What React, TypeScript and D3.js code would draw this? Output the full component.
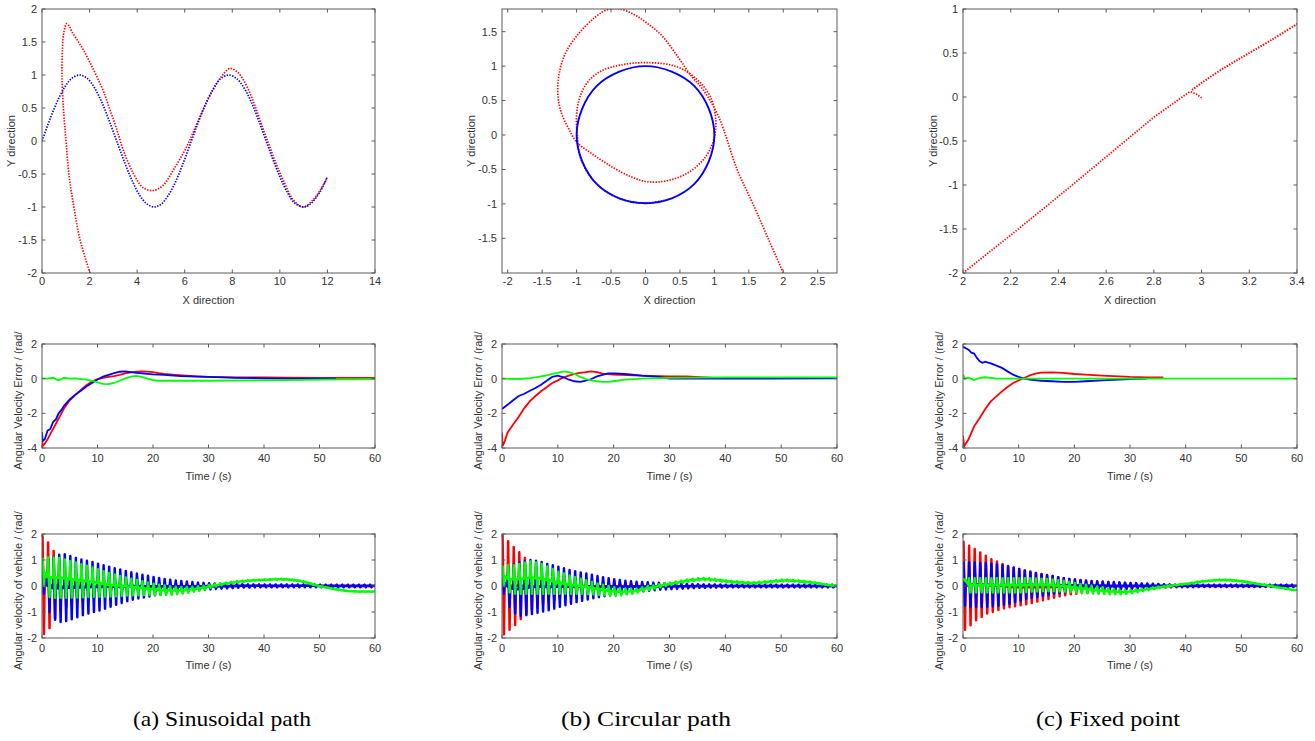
import React from 'react';
import * as d3 from 'd3';

type Pt = [number, number];

// ---------- Top row: trajectories ----------
const sinRefA: Pt[] = [[0,0],[0.25,0.25],[0.5,0.48],[0.75,0.68],[1,0.84],[1.25,0.95],[1.57,1.0],[1.9,0.95],[2.2,0.81],[2.5,0.6],[2.8,0.33],[3.14,0.0],[3.5,-0.35],[3.8,-0.61],[4.1,-0.82],[4.4,-0.95],[4.71,-1.0],[5.0,-0.96],[5.3,-0.83],[5.6,-0.63],[5.9,-0.37],[6.28,0.0],[6.6,0.31],[6.9,0.58],[7.2,0.79],[7.5,0.94],[7.85,1.0],[8.2,0.94],[8.5,0.8],[8.8,0.59],[9.1,0.32],[9.42,0.0],[9.7,-0.27],[10.0,-0.54],[10.3,-0.77],[10.6,-0.93],[11.0,-1.0],[11.3,-0.95],[11.6,-0.82],[11.8,-0.7],[12.0,-0.54]];
const sinRobotA: Pt[] = [[2.02,-2.0],[1.6,-1.5],[1.34,-1.0],[1.13,-0.5],[1.01,0.0],[0.9,0.5],[0.84,1.0],[0.86,1.4],[0.92,1.65],[1.04,1.78],[1.15,1.74],[1.25,1.66],[1.5,1.52],[1.74,1.38],[2.0,1.2],[2.3,0.98],[2.6,0.74],[2.86,0.47],[3.15,0.17],[3.42,-0.14],[3.84,-0.49],[4.26,-0.71],[4.68,-0.75],[5.1,-0.67],[5.52,-0.44],[6.08,-0.09],[6.64,0.37],[7.2,0.78],[7.55,0.98],[7.9,1.1],[8.2,1.05],[8.46,0.93],[8.75,0.72],[9.02,0.47],[9.3,0.18],[9.58,-0.09],[9.86,-0.36],[10.14,-0.59],[10.56,-0.89],[10.98,-1.0],[11.4,-0.89],[11.7,-0.74],[12.0,-0.55]];

const circleRefB: Pt[] = [[1,0],[0.92,0.38],[0.71,0.71],[0.38,0.92],[0,1],[-0.38,0.92],[-0.71,0.71],[-0.92,0.38],[-1,0],[-0.92,-0.38],[-0.71,-0.71],[-0.38,-0.92],[0,-0.99],[0.38,-0.92],[0.71,-0.71],[0.92,-0.38]];
const circleRobotB: Pt[] = [[2.0,-2.0],[1.78,-1.5],[1.56,-1.0],[1.33,-0.5],[1.06,0.27],[0.82,0.68],[0.67,0.85],[0.48,1.12],[0.24,1.44],[0.04,1.61],[-0.15,1.74],[-0.37,1.83],[-0.55,1.82],[-0.73,1.71],[-0.98,1.46],[-1.17,1.17],[-1.26,0.85],[-1.27,0.56],[-1.22,0.32],[-1.12,0.1],[-1.0,-0.1],[-0.78,-0.27],[-0.49,-0.46],[-0.2,-0.61],[0.04,-0.68],[0.33,-0.66],[0.63,-0.54],[0.87,-0.32],[0.99,-0.07],[1.02,0.22],[0.94,0.56],[0.72,0.83],[0.43,1.0],[0.04,1.05],[-0.34,1.02],[-0.64,0.93],[-0.83,0.78],[-0.95,0.56],[-1.0,0.3],[-0.99,0.0],[-0.93,-0.37],[-0.71,-0.71],[-0.38,-0.92],[0.0,-0.99],[0.38,-0.92]];

const fixedLowerC: Pt[] = [[2.0,-2.0],[2.2,-1.57],[2.4,-1.13],[2.6,-0.68],[2.8,-0.23],[2.95,0.06]];
const fixedSpurC: Pt[] = [[2.955,0.06],[2.98,0.03],[3.0,-0.01]];
const fixedUpperC: Pt[] = [[2.96,0.08],[3.0,0.16],[3.1,0.34],[3.2,0.5],[3.3,0.66],[3.4,0.83]];

// ---------- Middle row: angular velocity error ----------
const errRedA: Pt[] = [[0,-3.1],[0.1,-3.9],[0.5,-3.75],[1,-3.5],[1.5,-3.2],[2,-2.9],[2.5,-2.6],[3,-2.3],[3.5,-2.0],[4,-1.7],[5,-1.25],[6,-0.95],[7,-0.65],[8,-0.38],[9,-0.17],[10,-0.03],[11,0.05],[12,0.1],[13,0.15],[14,0.22],[15,0.3],[16,0.36],[17,0.4],[18,0.42],[19,0.41],[20,0.38],[21,0.32],[22,0.28],[24,0.22],[26,0.17],[28,0.13],[30,0.1],[35,0.08],[40,0.07],[44,0.06],[50,0.05],[60,0.05]];
const errBlueA: Pt[] = [[0,-3.1],[0.1,-3.6],[0.5,-3.5],[1,-3.0],[1.5,-2.9],[2,-2.5],[2.5,-2.35],[3,-2.0],[3.5,-1.8],[4,-1.55],[5,-1.2],[6,-0.92],[7,-0.7],[8,-0.45],[9,-0.25],[10,-0.05],[11,0.12],[12,0.22],[13,0.32],[14,0.4],[15,0.42],[16,0.38],[17,0.33],[18,0.3],[20,0.25],[22,0.22],[25,0.15],[28,0.12],[30,0.1],[35,0.05],[40,0.02],[45,0.0],[53,0.0]];
const errGreenA: Pt[] = [[0,0.02],[1,0.0],[2,0.05],[3,-0.1],[4,0.05],[5,0.0],[6,0.02],[7,-0.02],[8,-0.05],[9,-0.12],[10,-0.22],[11,-0.3],[12,-0.32],[13,-0.25],[14,-0.12],[15,0.02],[16,0.12],[17,0.16],[18,0.1],[19,0.0],[20,-0.08],[21,-0.12],[25,-0.12],[30,-0.12],[40,-0.1],[50,-0.06],[60,-0.03]];

const errRedB: Pt[] = [[0,-3.1],[0.1,-3.9],[0.5,-3.6],[1,-3.1],[2,-2.65],[3,-2.2],[4,-1.7],[5,-1.3],[6,-1.0],[7,-0.73],[8,-0.5],[9,-0.25],[10,-0.1],[11,0.08],[12,0.17],[13,0.27],[14,0.33],[16,0.42],[17,0.38],[18,0.29],[20,0.23],[25,0.17],[30,0.13],[33,0.13],[38,0.05],[44,0.03]];
const errBlueB: Pt[] = [[0,-1.75],[1,-1.5],[2,-1.25],[3,-1.0],[4,-0.87],[5,-0.7],[6,-0.54],[7,-0.35],[8,-0.12],[9,0.1],[10,0.17],[11,0.08],[12,-0.06],[13,-0.15],[14,-0.19],[15,-0.12],[16,-0.02],[17,0.13],[19,0.3],[20,0.3],[22,0.27],[25,0.17],[28,0.1],[30,0.0],[35,0.0],[44,0.0],[60,0.02]];
const errGreenB: Pt[] = [[0,0.0],[3,-0.02],[5,0.03],[6,0.08],[7,0.13],[8,0.19],[9,0.27],[10,0.33],[11,0.42],[12,0.38],[13,0.27],[14,0.1],[15,-0.02],[16,-0.1],[17,-0.15],[18,-0.19],[19,-0.19],[20,-0.15],[22,-0.06],[25,0.0],[30,0.04],[40,0.08],[50,0.08],[60,0.08]];

const errRedC: Pt[] = [[0,-3.3],[0.2,-3.9],[1,-3.5],[2,-2.75],[3,-2.27],[4,-1.75],[5,-1.31],[6,-1.02],[7,-0.73],[8,-0.48],[9,-0.25],[10,-0.1],[11,0.04],[12,0.19],[13,0.29],[14,0.35],[16,0.36],[18,0.33],[20,0.27],[22,0.23],[25,0.17],[28,0.13],[30,0.1],[33,0.08],[36,0.08]];
const errBlueC: Pt[] = [[0,1.85],[0.5,1.75],[1,1.67],[1.5,1.5],[2,1.45],[2.5,1.2],[3,1.0],[3.5,0.92],[4,0.98],[4.5,0.93],[5,0.88],[6,0.75],[7,0.62],[8,0.42],[9,0.23],[10,0.1],[11,0.0],[12,-0.06],[14,-0.12],[16,-0.15],[18,-0.19],[20,-0.19],[22,-0.15],[25,-0.1],[28,-0.06],[30,-0.02],[33,0.0]];
const errGreenC: Pt[] = [[0,0.25],[0.3,0.0],[1,0.05],[2,-0.08],[3,0.05],[4,0.08],[5,0.04],[6,0.0],[20,0.0],[40,0.0],[60,0.0]];

// ---------- Bottom row: angular velocity of vehicle (one peak pair per cycle) ----------
const cycleTimes = [0,1,2,3,4,5,6,7,8,9,10,11,12,13,14,15,16,17,18,19,20,21,22,23,24,25,26,27,28,29,30,31,32,33,34,35,36,37,38,39,40,41,42,43,44,45,46,47,48,49,50,51,52,53,54,55,56,57,58,59];

const velRedHiA = [1.92,1.67,1.35,0.95,0.78,0.66,0.58,0.52,0.47,0.43,0.39,0.35,0.32,0.29,0.26,0.24,0.21,0.19,0.17,0.15,0.13,0.12,0.1,0.09,0.08,0.07,0.06,0.06,0.05,0.05,0.05,0.05,0.05,0.05,0.05,0.05,0.05,0.05,0.05,0.05,0.04,0.04,0.04,0.04,0.04,0.04,0.04,0.04,0.04,0.04,0.04,0.04,0.04,0.04,0.04,0.04,0.04,0.04,0.04,0.04];
const velRedLoA = [-1.85,-1.62,-1.25,-0.98,-0.82,-0.72,-0.64,-0.57,-0.51,-0.47,-0.43,-0.39,-0.35,-0.32,-0.29,-0.26,-0.23,-0.21,-0.19,-0.17,-0.15,-0.13,-0.12,-0.1,-0.09,-0.08,-0.07,-0.06,-0.06,-0.05,-0.05,-0.05,-0.05,-0.05,-0.05,-0.04,-0.04,-0.04,-0.04,-0.04,-0.04,-0.04,-0.04,-0.04,-0.04,-0.03,-0.03,-0.03,-0.03,-0.03,-0.03,-0.03,-0.03,-0.03,-0.03,-0.03,-0.03,-0.03,-0.03,-0.03];
const velBlueHiA = [0.88,1.02,1.12,1.2,1.22,1.15,1.08,1.02,0.97,0.92,0.86,0.8,0.74,0.68,0.63,0.58,0.53,0.48,0.43,0.39,0.35,0.31,0.27,0.24,0.21,0.19,0.17,0.15,0.13,0.12,0.11,0.1,0.09,0.08,0.08,0.07,0.07,0.06,0.06,0.06,0.06,0.06,0.06,0.06,0.06,0.06,0.06,0.06,0.06,0.06,0.05,0.05,0.05,0.05,0.05,0.05,0.05,0.05,0.05,0.05];
const velBlueLoA = [-0.3,-1.0,-1.3,-1.38,-1.35,-1.28,-1.2,-1.12,-1.06,-1.0,-0.94,-0.87,-0.8,-0.72,-0.65,-0.58,-0.53,-0.48,-0.44,-0.4,-0.36,-0.32,-0.29,-0.26,-0.24,-0.22,-0.2,-0.18,-0.16,-0.14,-0.13,-0.11,-0.1,-0.09,-0.08,-0.07,-0.06,-0.06,-0.05,-0.05,-0.05,-0.05,-0.05,-0.05,-0.05,-0.05,-0.05,-0.05,-0.05,-0.05,-0.05,-0.05,-0.05,-0.05,-0.05,-0.05,-0.05,-0.05,-0.05,-0.05];
const velGreenHiA = [1.05,1.1,1.1,1.08,1.02,0.96,0.9,0.84,0.78,0.71,0.64,0.57,0.5,0.44,0.38,0.33,0.28,0.23,0.18,0.13,0.09,0.05,0.02,-0.01,-0.03,-0.04,-0.04,-0.03,-0.01,0.01,0.04,0.07,0.1,0.13,0.16,0.19,0.21,0.23,0.24,0.25,0.26,0.27,0.28,0.28,0.27,0.25,0.22,0.18,0.12,0.05,0.0,-0.04,-0.08,-0.12,-0.16,-0.19,-0.2,-0.21,-0.21,-0.21];
const velGreenLoA = [0.0,-0.42,-0.45,-0.45,-0.45,-0.44,-0.44,-0.43,-0.42,-0.41,-0.41,-0.4,-0.4,-0.39,-0.38,-0.37,-0.36,-0.36,-0.35,-0.35,-0.35,-0.35,-0.35,-0.34,-0.32,-0.29,-0.26,-0.22,-0.18,-0.13,-0.07,-0.02,0.03,0.07,0.1,0.13,0.16,0.18,0.2,0.21,0.22,0.23,0.24,0.24,0.23,0.21,0.18,0.14,0.08,0.02,-0.03,-0.07,-0.11,-0.15,-0.18,-0.2,-0.21,-0.22,-0.22,-0.22];

const velRedHiB = [1.95,1.72,1.5,1.3,1.08,0.9,0.77,0.66,0.57,0.5,0.44,0.39,0.35,0.31,0.28,0.25,0.22,0.2,0.18,0.16,0.15,0.13,0.12,0.11,0.1,0.09,0.08,0.07,0.06,0.06,0.05,0.05,0.05,0.05,0.05,0.05,0.05,0.05,0.05,0.05,0.04,0.04,0.04,0.04,0.04,0.04,0.04,0.04,0.04,0.04,0.04,0.04,0.04,0.04,0.04,0.04,0.04,0.04,0.04,0.04];
const velRedLoB = [-1.86,-1.68,-1.5,-1.27,-1.08,-0.92,-0.8,-0.7,-0.62,-0.55,-0.49,-0.44,-0.4,-0.36,-0.32,-0.29,-0.26,-0.23,-0.2,-0.18,-0.16,-0.14,-0.13,-0.12,-0.11,-0.1,-0.09,-0.08,-0.07,-0.07,-0.06,-0.06,-0.06,-0.05,-0.05,-0.05,-0.05,-0.05,-0.05,-0.05,-0.04,-0.04,-0.04,-0.04,-0.04,-0.04,-0.04,-0.04,-0.04,-0.04,-0.04,-0.04,-0.04,-0.04,-0.04,-0.04,-0.04,-0.04,-0.04,-0.04];
const velBlueHiB = [0.58,0.75,0.82,0.9,0.95,1.0,0.97,0.92,0.85,0.8,0.74,0.68,0.62,0.57,0.52,0.48,0.43,0.38,0.34,0.3,0.26,0.23,0.2,0.18,0.16,0.15,0.14,0.13,0.12,0.11,0.1,0.09,0.08,0.08,0.07,0.07,0.06,0.06,0.06,0.05,0.05,0.05,0.05,0.05,0.05,0.05,0.05,0.05,0.05,0.05,0.05,0.05,0.05,0.05,0.05,0.05,0.05,0.05,0.05,0.05];
const velBlueLoB = [-0.3,-0.8,-1.05,-1.15,-1.12,-1.08,-1.03,-0.98,-0.93,-0.87,-0.8,-0.74,-0.68,-0.62,-0.57,-0.52,-0.47,-0.43,-0.39,-0.36,-0.33,-0.3,-0.27,-0.24,-0.22,-0.2,-0.18,-0.16,-0.14,-0.13,-0.12,-0.11,-0.1,-0.09,-0.08,-0.07,-0.07,-0.06,-0.06,-0.05,-0.05,-0.05,-0.05,-0.05,-0.05,-0.05,-0.05,-0.05,-0.05,-0.05,-0.05,-0.05,-0.05,-0.05,-0.05,-0.05,-0.05,-0.05,-0.05,-0.05];
const velGreenHiB = [0.75,0.8,0.8,0.85,0.9,0.95,0.9,0.85,0.75,0.65,0.55,0.48,0.4,0.34,0.28,0.22,0.15,0.1,0.05,0.0,-0.05,-0.08,-0.1,-0.1,-0.1,-0.05,0.0,0.02,0.06,0.1,0.13,0.17,0.21,0.25,0.28,0.3,0.31,0.3,0.28,0.25,0.22,0.2,0.18,0.16,0.15,0.15,0.16,0.18,0.2,0.23,0.25,0.25,0.24,0.22,0.2,0.17,0.14,0.1,0.06,0.03];
const velGreenLoB = [0.0,-0.25,-0.3,-0.3,-0.3,-0.3,-0.3,-0.3,-0.3,-0.3,-0.3,-0.3,-0.3,-0.3,-0.3,-0.31,-0.32,-0.34,-0.36,-0.38,-0.38,-0.36,-0.33,-0.3,-0.25,-0.2,-0.15,-0.1,-0.05,0.0,0.04,0.08,0.12,0.16,0.19,0.21,0.22,0.21,0.19,0.17,0.15,0.13,0.11,0.1,0.09,0.09,0.1,0.12,0.14,0.16,0.18,0.18,0.17,0.15,0.13,0.11,0.09,0.06,0.03,0.0];

const velRedHiC = [1.7,1.55,1.42,1.29,1.16,1.03,0.94,0.85,0.77,0.71,0.65,0.6,0.55,0.5,0.46,0.42,0.38,0.34,0.3,0.27,0.25,0.23,0.21,0.19,0.18,0.17,0.15,0.13,0.12,0.11,0.1,0.09,0.08,0.07,0.06,0.06,0.05,0.05,0.05,0.05,0.05,0.05,0.04,0.04,0.04,0.04,0.04,0.04,0.04,0.04,0.04,0.04,0.04,0.04,0.04,0.04,0.04,0.04,0.04,0.04];
const velRedLoC = [-1.68,-1.51,-1.32,-1.19,-1.06,-1.0,-0.92,-0.86,-0.82,-0.78,-0.74,-0.7,-0.65,-0.6,-0.55,-0.5,-0.45,-0.4,-0.36,-0.32,-0.3,-0.27,-0.25,-0.23,-0.22,-0.2,-0.18,-0.16,-0.14,-0.13,-0.12,-0.1,-0.09,-0.08,-0.07,-0.06,-0.06,-0.05,-0.05,-0.05,-0.05,-0.05,-0.04,-0.04,-0.04,-0.04,-0.04,-0.04,-0.04,-0.04,-0.04,-0.04,-0.04,-0.04,-0.04,-0.04,-0.04,-0.04,-0.04,-0.04];
const velBlueHiC = [0.9,0.9,0.9,0.88,0.88,0.86,0.84,0.8,0.75,0.7,0.65,0.6,0.55,0.5,0.45,0.41,0.38,0.34,0.3,0.27,0.25,0.22,0.2,0.18,0.17,0.16,0.15,0.15,0.14,0.13,0.12,0.11,0.1,0.1,0.09,0.08,0.07,0.06,0.05,0.05,0.05,0.05,0.05,0.05,0.05,0.05,0.05,0.05,0.05,0.05,0.05,0.05,0.05,0.05,0.05,0.05,0.05,0.05,0.05,0.05];
const velBlueLoC = [-0.75,-0.8,-0.8,-0.8,-0.8,-0.78,-0.76,-0.72,-0.68,-0.62,-0.56,-0.5,-0.46,-0.42,-0.38,-0.34,-0.3,-0.27,-0.25,-0.22,-0.2,-0.18,-0.16,-0.15,-0.14,-0.13,-0.13,-0.13,-0.12,-0.11,-0.1,-0.09,-0.09,-0.08,-0.07,-0.06,-0.05,-0.04,-0.03,-0.03,-0.03,-0.03,-0.03,-0.03,-0.03,-0.03,-0.03,-0.03,-0.03,-0.03,-0.03,-0.03,-0.03,-0.03,-0.03,-0.03,-0.03,-0.03,-0.03,-0.03];
const velGreenHiC = [0.27,0.3,0.3,0.3,0.3,0.3,0.3,0.3,0.3,0.3,0.3,0.3,0.3,0.29,0.28,0.27,0.25,0.22,0.2,0.16,0.12,0.08,0.05,0.01,-0.02,-0.05,-0.08,-0.11,-0.14,-0.15,-0.15,-0.13,-0.1,-0.08,-0.05,-0.02,0.0,0.03,0.05,0.08,0.1,0.13,0.17,0.2,0.22,0.24,0.25,0.25,0.24,0.22,0.2,0.16,0.12,0.08,0.05,0.01,-0.03,-0.07,-0.1,-0.14];
const velGreenLoC = [0.2,-0.25,-0.25,-0.25,-0.25,-0.25,-0.25,-0.25,-0.25,-0.25,-0.25,-0.24,-0.22,-0.21,-0.2,-0.2,-0.2,-0.21,-0.22,-0.23,-0.25,-0.27,-0.28,-0.29,-0.3,-0.31,-0.32,-0.32,-0.32,-0.3,-0.28,-0.24,-0.2,-0.16,-0.12,-0.08,-0.05,-0.02,0.02,0.05,0.07,0.1,0.14,0.17,0.19,0.21,0.22,0.21,0.2,0.18,0.16,0.13,0.1,0.06,0.03,-0.01,-0.05,-0.09,-0.12,-0.16];

// ---------- Ticks / labels ----------
const ticksSinX = [0,2,4,6,8,10,12,14];
const ticksSinY = [-2,-1.5,-1,-0.5,0,0.5,1,1.5,2];
const ticksCircX = [-2,-1.5,-1,-0.5,0,0.5,1,1.5,2,2.5];
const ticksCircY = [-1.5,-1,-0.5,0,0.5,1,1.5];
const ticksFixX = [2,2.2,2.4,2.6,2.8,3,3.2,3.4];
const ticksFixY = [-2,-1.5,-1,-0.5,0,0.5,1];
const ticksTime = [0,10,20,30,40,50,60];
const ticksErrY = [-4,-2,0,2];
const ticksVelY = [-2,-1,0,1,2];
const captions = ['(a) Sinusoidal path', '(b) Circular path', '(c) Fixed point'];

const RED = '#ff0000', BLUE = '#0000ff', GREEN = '#00ff00';
const FONT = "'Liberation Sans', Arial, sans-serif";

function spikes(times: number[], hi: number[], lo: number[], tEnd: number): Pt[] {
  const pts: Pt[] = [];
  times.forEach((t, i) => {
    const m = (hi[i] + lo[i]) / 2;
    pts.push([t, m], [t + 0.1, hi[i]], [t + 0.36, lo[i]], [t + 0.46, m]);
  });
  const last = times.length - 1;
  pts.push([tEnd, (hi[last] + lo[last]) / 2]);
  return pts;
}

type Scales = { x: d3.ScaleLinear<number, number>; y: d3.ScaleLinear<number, number> };

type PanelProps = {
  id: string;
  left: number; top: number; right: number; bottom: number;
  xDomain: [number, number]; yDomain: [number, number];
  xTicks: number[]; yTicks: number[];
  xLabel: string; yLabel: string;
  yLabelX: number; xLabelDy: number; xTickDy: number;
  labelClipTop: number;
  render: (s: Scales) => React.ReactNode;
};

function Panel(p: PanelProps) {
  const x = d3.scaleLinear().domain(p.xDomain).range([p.left, p.right]);
  const y = d3.scaleLinear().domain(p.yDomain).range([p.bottom, p.top]);
  const tl = 3.5;
  const cy = (p.top + p.bottom) / 2;
  return (
    <g>
      <defs>
        <clipPath id={`clip-${p.id}`}>
          <rect x={p.left} y={p.top} width={p.right - p.left} height={p.bottom - p.top} />
        </clipPath>
        <clipPath id={`lclip-${p.id}`}>
          <rect x={p.yLabelX - 20} y={p.labelClipTop} width={30} height={400} />
        </clipPath>
      </defs>
      <g clipPath={`url(#clip-${p.id})`}>{p.render({ x, y })}</g>
      <rect x={p.left} y={p.top} width={p.right - p.left} height={p.bottom - p.top} fill="none" stroke="#5a5a5a" strokeWidth={1} />
      {p.xTicks.map((t) => (
        <g key={`xt${t}`}>
          <line x1={x(t)} x2={x(t)} y1={p.bottom} y2={p.bottom - tl} stroke="#5a5a5a" />
          <line x1={x(t)} x2={x(t)} y1={p.top} y2={p.top + tl} stroke="#5a5a5a" />
          <text x={x(t)} y={p.bottom + p.xTickDy} textAnchor="middle" fontFamily={FONT} fontSize={11} fill="#333">{String(t)}</text>
        </g>
      ))}
      {p.yTicks.map((t) => (
        <g key={`yt${t}`}>
          <line x1={p.left} x2={p.left + tl} y1={y(t)} y2={y(t)} stroke="#5a5a5a" />
          <line x1={p.right} x2={p.right - tl} y1={y(t)} y2={y(t)} stroke="#5a5a5a" />
          <text x={p.left - 5} y={y(t)} dy="0.35em" textAnchor="end" fontFamily={FONT} fontSize={11} fill="#333">{String(t)}</text>
        </g>
      ))}
      <text x={(p.left + p.right) / 2} y={p.bottom + p.xLabelDy} textAnchor="middle" fontFamily={FONT} fontSize={11} fill="#333">{p.xLabel}</text>
      <g clipPath={`url(#lclip-${p.id})`}>
        <text transform={`translate(${p.yLabelX},${cy}) rotate(-90)`} textAnchor="middle" fontFamily={FONT} fontSize={11} fill="#333">{p.yLabel}</text>
      </g>
    </g>
  );
}

function lineOf(s: Scales, curve: d3.CurveFactory = d3.curveLinear) {
  return d3.line<Pt>().x((d) => s.x(d[0])).y((d) => s.y(d[1])).curve(curve);
}

const cols = [
  { l: 42, r: 375, ly: 15, lm: 22 },
  { l: 502, r: 837, ly: 475, lm: 482 },
  { l: 963, r: 1297, ly: 937, lm: 943 },
];

export default function App() {
  const dotted = { fill: 'none', strokeWidth: 1.7, strokeDasharray: '1.4 1.4' } as const;
  const errPanels = [
    [errRedA, errBlueA, errGreenA],
    [errRedB, errBlueB, errGreenB],
    [errRedC, errBlueC, errGreenC],
  ];
  const velPanels = [
    [[velRedHiA, velRedLoA], [velBlueHiA, velBlueLoA], [velGreenHiA, velGreenLoA]],
    [[velRedHiB, velRedLoB], [velBlueHiB, velBlueLoB], [velGreenHiB, velGreenLoB]],
    [[velRedHiC, velRedLoC], [velBlueHiC, velBlueLoC], [velGreenHiC, velGreenLoC]],
  ];
  const colours = [RED, BLUE, GREEN];
  const captionX = [222, 646, 1108];
  const captionW = [178, 170, 144];

  return (
    <svg width={1315} height={741} style={{ position: 'absolute', left: 0, top: 0, background: '#fff' }}>
      <rect x={0} y={0} width={1315} height={741} fill="#fff" />
      {/* top row */}
      <Panel id="t1" left={cols[0].l} right={cols[0].r} top={9} bottom={273}
        xDomain={[0, 14]} yDomain={[-2, 2]} xTicks={ticksSinX} yTicks={ticksSinY}
        xLabel="X direction" yLabel="Y direction" yLabelX={cols[0].ly} xLabelDy={30.5} xTickDy={11.5} labelClipTop={0}
        render={(s) => (
          <g>
            <path d={lineOf(s, d3.curveCatmullRom)(sinRobotA) || ''} stroke={RED} {...dotted} />
            <path d={lineOf(s, d3.curveCatmullRom)(sinRefA) || ''} stroke={BLUE} {...dotted} />
          </g>
        )} />
      <Panel id="t2" left={cols[1].l} right={cols[1].r} top={9} bottom={273}
        xDomain={[-2.083, 2.78]} yDomain={[-2.003, 1.829]} xTicks={ticksCircX} yTicks={ticksCircY}
        xLabel="X direction" yLabel="Y direction" yLabelX={cols[1].ly} xLabelDy={30.5} xTickDy={11.5} labelClipTop={0}
        render={(s) => (
          <g>
            <path d={lineOf(s, d3.curveCatmullRom)(circleRobotB) || ''} stroke={RED} {...dotted} />
            <path d={lineOf(s, d3.curveCatmullRomClosed)(circleRefB) || ''} stroke={BLUE} fill="none" strokeWidth={1.9} />
          </g>
        )} />
      <Panel id="t3" left={cols[2].l} right={cols[2].r} top={9} bottom={273}
        xDomain={[2, 3.4]} yDomain={[-2, 1]} xTicks={ticksFixX} yTicks={ticksFixY}
        xLabel="X direction" yLabel="Y direction" yLabelX={cols[2].ly} xLabelDy={30.5} xTickDy={11.5} labelClipTop={0}
        render={(s) => (
          <g>
            <path d={lineOf(s)(fixedLowerC) || ''} stroke={RED} {...dotted} />
            <path d={lineOf(s)(fixedSpurC) || ''} stroke={RED} {...dotted} />
            <path d={lineOf(s, d3.curveCatmullRom)(fixedUpperC) || ''} stroke={RED} {...dotted} strokeWidth={2} />
          </g>
        )} />

      {/* middle row */}
      {errPanels.map((series, ci) => (
        <Panel key={`m${ci}`} id={`m${ci}`} left={cols[ci].l} right={cols[ci].r} top={344} bottom={448}
          xDomain={[0, 60]} yDomain={[-4, 2]} xTicks={ticksTime} yTicks={ticksErrY}
          xLabel="Time / (s)" yLabel="Angular Velocity Error / (rad/s)" yLabelX={cols[ci].lm}
          xLabelDy={31.5} xTickDy={14} labelClipTop={331}
          render={(s) => (
            <g>
              {series.map((d, k) => (
                <path key={k} d={lineOf(s)(d) || ''} stroke={colours[k]} fill="none" strokeWidth={1.8} />
              ))}
            </g>
          )} />
      ))}

      {/* bottom row */}
      {velPanels.map((series, ci) => (
        <Panel key={`b${ci}`} id={`b${ci}`} left={cols[ci].l} right={cols[ci].r} top={534} bottom={638}
          xDomain={[0, 60]} yDomain={[-2, 2]} xTicks={ticksTime} yTicks={ticksVelY}
          xLabel="Time / (s)" yLabel="Angular velocity of vehicle / (rad/s)" yLabelX={cols[ci].lm}
          xLabelDy={31} xTickDy={14} labelClipTop={511}
          render={(s) => (
            <g>
              {series.map(([hi, lo], k) => (
                <path key={k} d={lineOf(s)(spikes(cycleTimes, hi, lo, 60)) || ''} stroke={colours[k]} fill="none" strokeWidth={2.5} strokeLinejoin="round" />
              ))}
            </g>
          )} />
      ))}

      {/* captions */}
      {captions.map((c, i) => (
        <text key={c} x={captionX[i]} y={726} textAnchor="middle" fontFamily="'Liberation Serif', 'DejaVu Serif', serif"
          fontSize={22} fill="#000" textLength={captionW[i]} lengthAdjust="spacingAndGlyphs">{c}</text>
      ))}
    </svg>
  );
}
